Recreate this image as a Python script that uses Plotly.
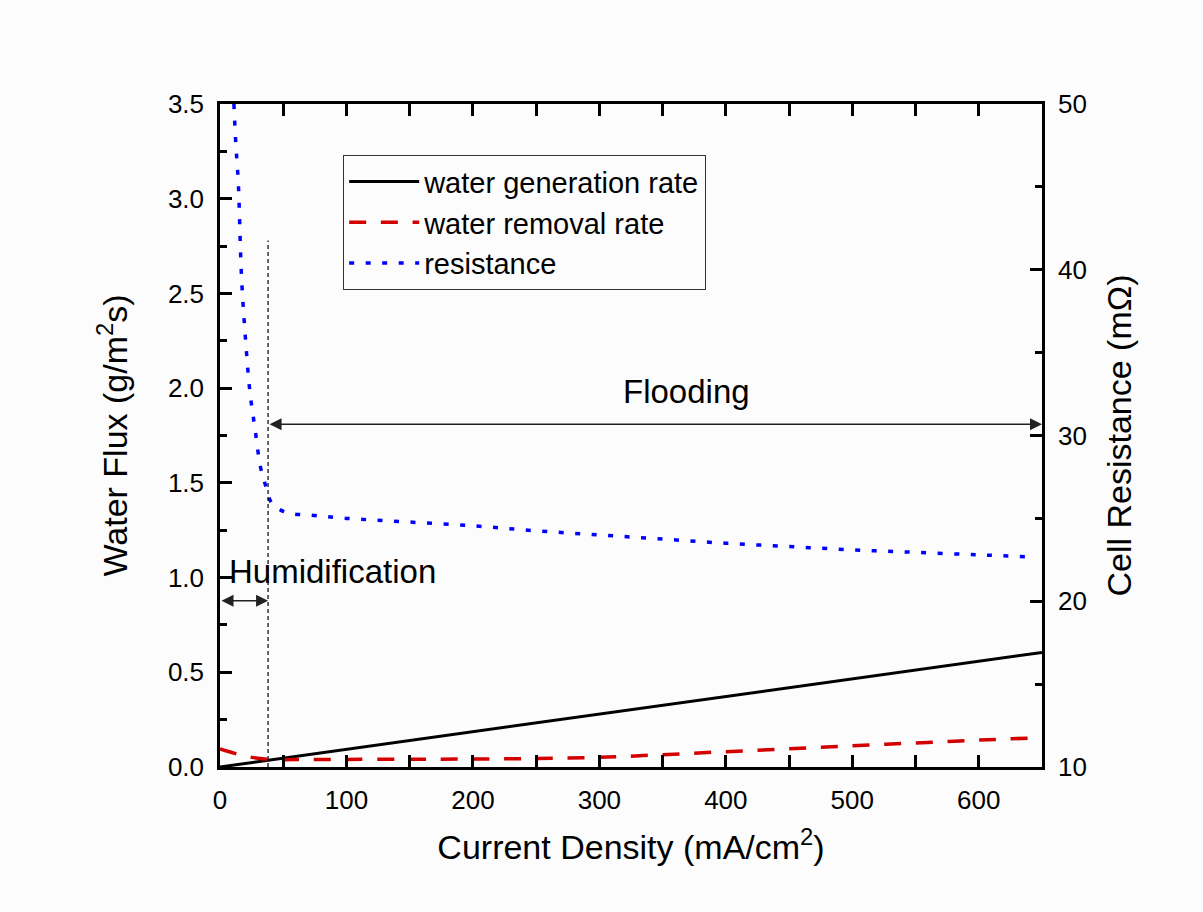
import plotly.graph_objects as go

# ---- data ----
gen_x = [0, 100, 200, 300, 400, 500, 650]
gen_y = [0.0, 0.093, 0.186, 0.279, 0.372, 0.465, 0.605]

rem_x = [0, 10, 20, 30, 40, 60, 100, 150, 200, 250, 300, 350, 400, 450, 500, 550, 600, 650]
rem_y = [0.095, 0.075, 0.058, 0.046, 0.040, 0.039, 0.040, 0.041, 0.042, 0.045, 0.051, 0.065, 0.081, 0.096, 0.112, 0.127, 0.142, 0.155]

res_x = [11, 12.5, 14.5, 17, 20, 23.7, 27.7, 32, 36, 41, 48, 55, 70, 100, 145, 200, 250,
         300, 350, 400, 450, 500, 550, 600, 640]
res_y = [50, 47.6, 45.2, 39.6, 36.0, 32.6, 30.4, 28.1, 27.0, 25.9, 25.5, 25.3, 25.2, 25.0,
         24.8, 24.55, 24.25, 24.0, 23.75, 23.5, 23.3, 23.1, 22.95, 22.8, 22.68]

names = ["water generation rate", "water removal rate", "resistance"]
boundary_x = 38
flood_arrow_y = 1.81
humid_arrow_y = 0.878
boundary_top = 2.78

FONT = "Liberation Sans, Arial, sans-serif"
BG = "#fcfcfc"

fig = go.Figure()
fig.add_trace(go.Scatter(x=gen_x, y=gen_y, mode="lines", name=names[0],
                         line=dict(color="black", width=3)))
fig.add_trace(go.Scatter(x=rem_x, y=rem_y, mode="lines", name=names[1],
                         line=dict(color="#d40000", width=3.5, dash="17px,14.7px"),
                         line_shape="spline"))
fig.add_trace(go.Scatter(x=res_x, y=res_y, mode="lines", name=names[2], yaxis="y2",
                         line=dict(color="#0000ff", width=3.5, dash="5px,11.5px"),
                         line_shape="spline"))

# dashed boundary line
fig.add_shape(type="line", xref="x", yref="y", x0=boundary_x, x1=boundary_x,
              y0=0, y1=boundary_top, line=dict(color="black", width=1.2, dash="4px,3px"))

# arrows
fig.add_annotation(x=650, y=flood_arrow_y, ax=boundary_x, ay=flood_arrow_y,
                   xref="x", yref="y", axref="x", ayref="y", text="",
                   showarrow=True, arrowhead=2, startarrowhead=2, arrowside="end+start",
                   arrowsize=1.6, startarrowsize=1.6, arrowwidth=1.5, arrowcolor="#222222")
fig.add_annotation(x=boundary_x, y=humid_arrow_y, ax=0, ay=humid_arrow_y,
                   xref="x", yref="y", axref="x", ayref="y", text="",
                   showarrow=True, arrowhead=2, startarrowhead=2, arrowside="end+start",
                   arrowsize=1.6, startarrowsize=1.6, arrowwidth=1.5, arrowcolor="#222222")

fig.add_annotation(x=369, y=1.98, xref="x", yref="y", text="Flooding", showarrow=False,
                   font=dict(family=FONT, size=33, color="black"))
fig.add_annotation(x=89, y=1.03, xref="x", yref="y", text="Humidification", showarrow=False,
                   font=dict(family=FONT, size=33, color="black"))

axis_common = dict(showline=True, linecolor="black", linewidth=2.5, ticks="inside",
                   tickwidth=2.5, ticklen=12, tickcolor="black", showgrid=False,
                   zeroline=False, tickfont=dict(family=FONT, size=26, color="black"),
                   ticklabelstandoff=8)

fig.update_layout(
    width=1195, height=904,
    margin=dict(l=212, r=161, t=96, b=145),
    paper_bgcolor=BG, plot_bgcolor=BG,
    font=dict(family=FONT, color="black"),
    showlegend=True,
    legend=dict(x=0.1496, y=0.923, xanchor="left", yanchor="top",
                bgcolor="rgba(0,0,0,0)", bordercolor="#333333", borderwidth=1.2,
                font=dict(family=FONT, size=29, color="black"),
                itemwidth=70, tracegroupgap=0),
    xaxis=dict(range=[0, 650], dtick=100, mirror="allticks",
               minor=dict(dtick=50, ticks="inside", ticklen=7, tickwidth=2.5, tickcolor="black"),
               title=dict(text="Current Density (mA/cm<sup>2</sup>)",
                          font=dict(family=FONT, size=34, color="black"), standoff=22),
               **axis_common),
    yaxis=dict(range=[0, 3.5], dtick=0.5, tickformat=".1f",
               minor=dict(dtick=0.25, ticks="inside", ticklen=7, tickwidth=2.5, tickcolor="black"),
               title=dict(text="Water Flux (g/m<sup>2</sup>s)",
                          font=dict(family=FONT, size=34, color="black"), standoff=30),
               **axis_common),
    yaxis2=dict(range=[10, 50], dtick=10, overlaying="y", side="right",
                minor=dict(dtick=5, ticks="inside", ticklen=7, tickwidth=2.5, tickcolor="black"),
                title=dict(text="Cell Resistance (mΩ)",
                           font=dict(family=FONT, size=34, color="black"), standoff=22),
                **axis_common),
)

fig.write_html("out.html", post_script="document.body.style.background='#fcfcfc';")
